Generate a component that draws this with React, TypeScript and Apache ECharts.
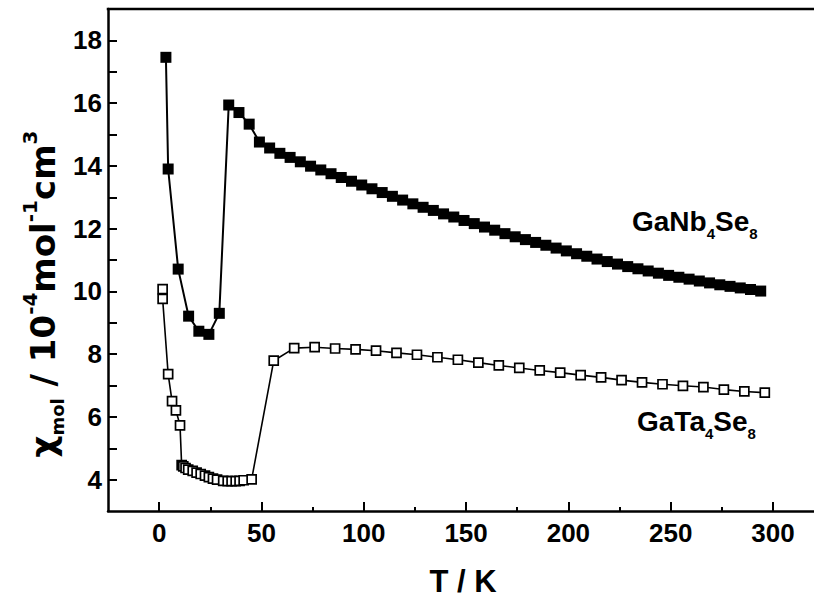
import React, { useEffect, useRef } from "react";
import * as echarts from "echarts";

// GaNb4Se8 (filled squares): temperature / K and molar susceptibility / 1e-4 mol^-1 cm^3
const nbTemps = [
  3.3, 4.4, 9.3, 14.4, 19.4, 24.3, 29.4,
  34, 39, 44, 49, 54, 59, 64, 69, 74, 79, 84, 89, 94, 99, 104, 109, 114, 119,
  124, 129, 134, 139, 144, 149, 154, 159, 164, 169, 174, 179, 184, 189, 194,
  199, 204, 209, 214, 219, 224, 229, 234, 239, 244, 249, 254, 259, 264, 269,
  274, 279, 284, 289, 294,
];
const nbChi = [
  17.46, 13.9, 10.71, 9.21, 8.73, 8.63, 9.3,
  15.94, 15.7, 15.33, 14.76, 14.57, 14.4, 14.27, 14.13, 13.99, 13.87, 13.75,
  13.63, 13.51, 13.39, 13.27, 13.15, 13.03, 12.91, 12.79, 12.68, 12.58, 12.47,
  12.37, 12.26, 12.16, 12.05, 11.95, 11.84, 11.74, 11.65, 11.56, 11.47, 11.38,
  11.29, 11.2, 11.12, 11.03, 10.95, 10.87, 10.79, 10.72, 10.65, 10.58, 10.51,
  10.45, 10.39, 10.33, 10.27, 10.21, 10.16, 10.11, 10.06, 10.01,
];

// GaTa4Se8 (open squares)
const taTemps = [
  1.7, 1.7, 4.4, 6.3, 8.2, 10.2, 11.0, 11.8, 12.9, 14.2, 16.4, 18.3, 20.3,
  22.4, 24.3, 26.3, 28.3, 31.3, 33.5, 35.4, 37.4, 39.3, 41.3, 45.2,
  56, 66, 76, 86, 96, 106, 116, 126, 136, 146, 156, 166, 176, 186, 196, 206,
  216, 226, 236, 246, 256, 266, 276, 286, 296,
];
const taChi = [
  10.07, 9.76, 7.36, 6.5, 6.21, 5.73, 4.46, 4.42, 4.37, 4.32, 4.28, 4.22, 4.18,
  4.13, 4.08, 4.03, 4.0, 3.96, 3.95, 3.95, 3.95, 3.96, 3.98, 4.01,
  7.79, 8.19, 8.22, 8.18, 8.15, 8.11, 8.04, 7.98, 7.9, 7.82, 7.73, 7.64, 7.56,
  7.48, 7.41, 7.33, 7.26, 7.17, 7.1, 7.04, 6.99, 6.95, 6.87, 6.81, 6.77,
];

// Axis ticks and labels
const xMajorTicks = [0, 50, 100, 150, 200, 250, 300];
const xMinorTicks = [25, 75, 125, 175, 225, 275];
const yTicks = [4, 5, 6, 7, 8, 9, 10, 11, 12, 13, 14, 15, 16, 17, 18];
const yLabels = [4, 6, 8, 10, 12, 14, 16, 18];

// The frame runs past the right edge of the canvas, so its right side is not drawn.
const X_MIN = -25;
const X_MAX = 322;
const Y_MIN = 3;
const Y_MAX = 19;

const GRID_LEFT = 108;
const GRID_TOP = 9;

const FONT = "'Liberation Sans', Arial, Helvetica, sans-serif";
const WIDE_FONT = "'DejaVu Sans', 'Liberation Sans', sans-serif";
const INK = "#000";

const pairs = (xs: number[], ys: number[]) => xs.map((x, i) => [x, ys[i]]);

const axisLineStyle = { color: INK, width: 2.5 };
const tickStyle = { color: INK, width: 2 };
const tickLabel = {
  color: INK,
  fontFamily: FONT,
  fontWeight: "bold" as const,
  fontSize: 26,
};

const formulaRich = (size: number) => ({
  m: {
    fontFamily: FONT,
    fontWeight: "bold" as const,
    fontSize: size,
    lineHeight: 40,
    fill: INK,
  },
  s: {
    fontFamily: FONT,
    fontWeight: "bold" as const,
    fontSize: 15,
    lineHeight: 10,
    verticalAlign: "bottom" as const,
    fill: INK,
  },
});

const option: any = {
  animation: false,
  backgroundColor: "#fff",
  grid: {
    left: GRID_LEFT,
    right: -4,
    top: GRID_TOP,
    bottom: 88,
    containLabel: false,
    outerBoundsMode: "none",
  },
  xAxis: [
    {
      type: "value",
      min: X_MIN,
      max: X_MAX,
      position: "bottom",
      axisLine: { show: true, onZero: false, lineStyle: axisLineStyle },
      axisTick: {
        show: true,
        inside: true,
        length: 9,
        lineStyle: tickStyle,
        customValues: xMajorTicks,
      },
      axisLabel: { ...tickLabel, margin: 9, customValues: xMajorTicks },
      splitLine: { show: false },
      name: "T / K",
      nameLocation: "middle",
      nameGap: 55,
      nameTextStyle: {
        color: INK,
        fontFamily: FONT,
        fontWeight: "bold",
        fontSize: 31,
      },
    },
    {
      type: "value",
      min: X_MIN,
      max: X_MAX,
      position: "bottom",
      axisLine: { show: false, onZero: false },
      axisTick: {
        show: true,
        inside: true,
        length: 4,
        lineStyle: tickStyle,
        customValues: xMinorTicks,
      },
      axisLabel: { show: false },
      splitLine: { show: false },
    },
  ],
  yAxis: [
    {
      type: "value",
      min: Y_MIN,
      max: Y_MAX,
      position: "left",
      axisLine: { show: true, onZero: false, lineStyle: axisLineStyle },
      axisTick: {
        show: true,
        inside: true,
        length: 9,
        lineStyle: tickStyle,
        customValues: yTicks,
      },
      axisLabel: { ...tickLabel, margin: 6, customValues: yLabels },
      splitLine: { show: false },
    },
  ],
  series: [
    {
      name: "GaTa4Se8",
      type: "line",
      xAxisIndex: 0,
      yAxisIndex: 0,
      data: pairs(taTemps, taChi),
      symbol: "rect",
      symbolSize: 9,
      showSymbol: true,
      showAllSymbol: true,
      lineStyle: { color: INK, width: 1.6 },
      itemStyle: { color: "#fff", borderColor: INK, borderWidth: 1.7 },
      emphasis: { disabled: true },
      z: 2,
    },
    {
      name: "GaNb4Se8",
      type: "line",
      xAxisIndex: 0,
      yAxisIndex: 0,
      data: pairs(nbTemps, nbChi),
      symbol: "rect",
      symbolSize: 11,
      showSymbol: true,
      showAllSymbol: true,
      lineStyle: { color: INK, width: 2 },
      itemStyle: { color: INK, borderWidth: 0 },
      emphasis: { disabled: true },
      z: 3,
    },
  ],
  graphic: [
    // top edge of the plot frame
    {
      type: "line",
      silent: true,
      shape: { x1: GRID_LEFT - 1.25, y1: GRID_TOP, x2: 820, y2: GRID_TOP },
      style: { stroke: INK, lineWidth: 2.5 },
    },
    {
      type: "text",
      left: 632,
      top: 207,
      style: {
        text: "{m|GaNb}{s|4}{m|Se}{s|8}",
        rich: formulaRich(28),
      },
    },
    {
      type: "text",
      left: 637,
      top: 407,
      style: {
        text: "{m|GaTa}{s|4}{m|Se}{s|8}",
        rich: formulaRich(28),
      },
    },
    {
      type: "text",
      x: 43,
      y: 294,
      rotation: Math.PI / 2,
      style: {
        text: "{m|χ}{sb|mol}{m| / 10}{sp|-4}{m|mol}{sp|-1}{m|cm}{sp|3}",
        align: "center",
        verticalAlign: "middle",
        rich: {
          m: {
            fontFamily: WIDE_FONT,
            fontWeight: "bold",
            fontSize: 34,
            lineHeight: 46,
            fill: INK,
          },
          sp: {
            fontFamily: WIDE_FONT,
            fontWeight: "bold",
            fontSize: 20,
            lineHeight: 22,
            verticalAlign: "top",
            fill: INK,
          },
          sb: {
            fontFamily: WIDE_FONT,
            fontWeight: "bold",
            fontSize: 18,
            lineHeight: 14,
            verticalAlign: "bottom",
            fill: INK,
          },
        },
      },
    },
  ],
};

export default function App() {
  const ref = useRef<HTMLDivElement>(null);
  useEffect(() => {
    if (!ref.current) return;
    const chart = echarts.init(ref.current, null, { renderer: "svg" });
    chart.setOption(option);
    return () => chart.dispose();
  }, []);
  return (
    <div
      ref={ref}
      style={{
        position: "fixed",
        left: 0,
        top: 0,
        width: 814,
        height: 599,
        background: "#fff",
      }}
    />
  );
}
